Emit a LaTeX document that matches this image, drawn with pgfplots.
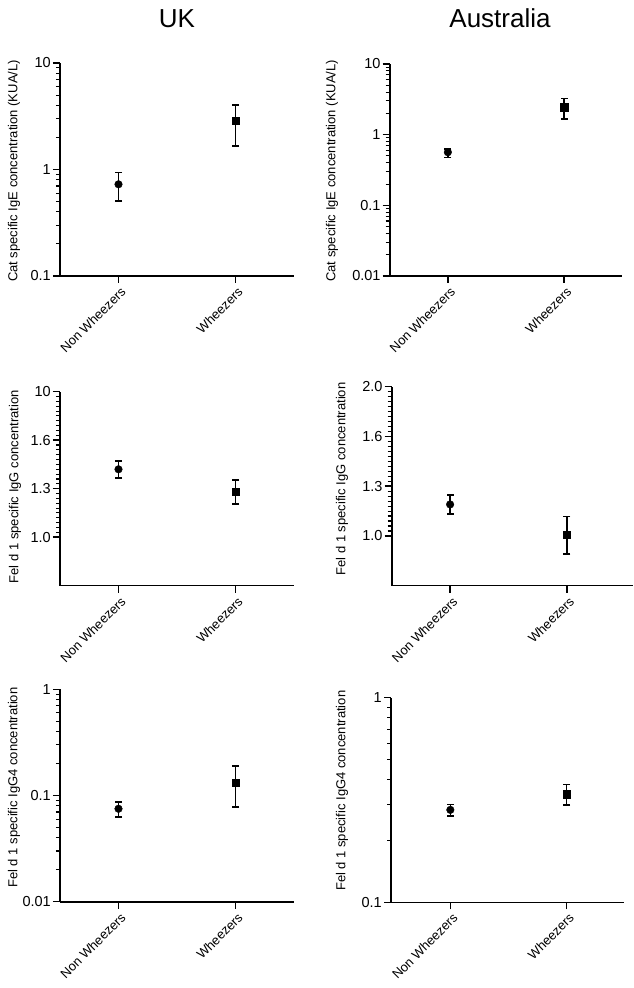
\documentclass[border=0pt]{standalone}
\usepackage{pgfplots}
\pgfplotsset{compat=1.18}
\usepackage{fontspec}
\setmainfont{Liberation Sans}
\pgfplotsset{
 panel/.style={
  scale only axis, anchor=south west,
  axis x line=bottom, axis y line=left,
  axis line style={line width=1.6pt,-},
  tick align=outside, major tick length=7pt, minor tick length=4pt,
  tick style={black, line width=1.4pt},
  minor tick style={line width=1.1pt},
  xtick={0,1}, xticklabels={Non Wheezers,Wheezers},
  xticklabel style={font=\fontsize{13}{15}\selectfont, rotate=45, anchor=north east, inner sep=1pt, yshift=-2pt},
  yticklabel style={font=\fontsize{14.5}{16}\selectfont, inner sep=2pt},
  ylabel style={font=\fontsize{13}{15}\selectfont, anchor=center},
  /pgf/number format/assume math mode=true,
  clip=false,
 },
 eb/.style={black, line width=1.6pt, mark=-, mark size=3.5pt},
 cm/.style={black, only marks, mark=*, mark size=3.8pt},
 sm/.style={black, only marks, mark=square*, mark size=3.8pt},
}
\begin{document}
\begin{tikzpicture}
\useasboundingbox (0,0) rectangle (634pt,988pt);
\node[font=\fontsize{26}{30}\selectfont] at (177pt,969.7pt) {UK};
\node[font=\fontsize{26}{30}\selectfont] at (500pt,969.7pt) {Australia};

% Panel 1: UK IgE
\begin{axis}[panel, at={(60pt,712pt)}, width=234pt, height=213pt,
  xmin=-0.5, xmax=1.5, ymode=log, ymin=0.1, ymax=10,
  ytick={0.1,1,10}, yticklabels={0.1,1,10},
  minor ytick={0.2,0.3,0.4,0.5,0.6,0.7,0.8,0.9,2,3,4,5,6,7,8,9},
  ylabel={Cat specific IgE concentration (KUA/L)},
  ylabel style={at={(axis description cs:-0.1966,0.493)}}]
\addplot[eb] coordinates {(0,0.506) (0,0.94)};
\addplot[eb] coordinates {(1,1.67) (1,4.03)};
\addplot[cm] coordinates {(0,0.726)};
\addplot[sm] coordinates {(1,2.87)};
\end{axis}

% Panel 2: Australia IgE
\begin{axis}[panel, at={(389.7pt,712pt)}, width=232.6pt, height=212pt,
  xmin=-0.5, xmax=1.5, ymode=log, ymin=0.01, ymax=10,
  ytick={0.01,0.1,1,10}, yticklabels={0.01,0.1,1,10},
  minor ytick={0.02,0.03,0.04,0.05,0.06,0.07,0.08,0.09,0.2,0.3,0.4,0.5,0.6,0.7,0.8,0.9,2,3,4,5,6,7,8,9},
  ylabel={Cat specific IgE concentration (KUA/L)},
  ylabel style={at={(axis description cs:-0.248,0.496)}}]
\addplot[eb] coordinates {(0,0.473) (0,0.628)};
\addplot[eb] coordinates {(1,1.67) (1,3.23)};
\addplot[cm] coordinates {(0,0.564)};
\addplot[sm] coordinates {(1,2.44)};
\end{axis}

% Panel 3: UK IgG
\begin{axis}[panel, at={(60pt,402.3pt)}, width=234pt, height=194pt,
  xmin=-0.5, xmax=1.5, ymin=0.7, ymax=1.9,
  ytick={1.0,1.3,1.6,1.9}, yticklabels={1.0,1.3,1.6,10},
  minor ytick={1.03,1.06,1.09,1.12,1.15,1.18,1.21,1.24,1.27,1.33,1.36,1.39,1.42,1.45,1.48,1.51,1.54,1.57,1.63,1.66,1.69,1.72,1.75,1.78,1.81,1.84,1.87},
  ylabel={Fel d 1 specific IgG concentration},
  ylabel style={at={(axis description cs:-0.192,0.51)}}]
\addplot[eb] coordinates {(0,1.366) (0,1.471)};
\addplot[eb] coordinates {(1,1.204) (1,1.354)};
\addplot[cm] coordinates {(0,1.42)};
\addplot[sm] coordinates {(1,1.281)};
\end{axis}

% Panel 4: Australia IgG
\begin{axis}[panel, at={(391.7pt,402.3pt)}, width=241.3pt, height=199pt,
  xmin=-0.5, xmax=1.566, ymin=0.7, ymax=1.9,
  ytick={1.0,1.3,1.6,1.9}, yticklabels={1.0,1.3,1.6,2.0},
  minor ytick={1.03,1.06,1.09,1.12,1.15,1.18,1.21,1.24,1.27,1.33,1.36,1.39,1.42,1.45,1.48,1.51,1.54,1.57,1.63,1.66,1.69,1.72,1.75,1.78,1.81,1.84,1.87},
  ylabel={Fel d 1 specific IgG concentration},
  ylabel style={at={(axis description cs:-0.206,0.536)}}]
\addplot[eb] coordinates {(0,1.134) (0,1.246)};
\addplot[eb] coordinates {(1,0.89) (1,1.118)};
\addplot[cm] coordinates {(0,1.19)};
\addplot[sm] coordinates {(1,1.008)};
\end{axis}

% Panel 5: UK IgG4
\begin{axis}[panel, at={(60pt,86.3pt)}, width=234pt, height=212.4pt,
  xmin=-0.5, xmax=1.5, ymode=log, ymin=0.01, ymax=1,
  ytick={0.01,0.1,1}, yticklabels={0.01,0.1,1},
  minor ytick={0.02,0.03,0.04,0.05,0.06,0.07,0.08,0.09,0.2,0.3,0.4,0.5,0.6,0.7,0.8,0.9},
  ylabel={Fel d 1 specific IgG4 concentration},
  ylabel style={at={(axis description cs:-0.1966,0.537)}}]
\addplot[eb] coordinates {(0,0.063) (0,0.0868)};
\addplot[eb] coordinates {(1,0.078) (1,0.189)};
\addplot[cm] coordinates {(0,0.075)};
\addplot[sm] coordinates {(1,0.1325)};
\end{axis}

% Panel 6: Australia IgG4
\begin{axis}[panel, at={(391pt,85.7pt)}, width=232.7pt, height=204.6pt,
  xmin=-0.51, xmax=1.49, ymode=log, ymin=0.1, ymax=1,
  ytick={0.1,1}, yticklabels={0.1,1},
  minor ytick={0.2,0.3,0.4,0.5,0.6,0.7,0.8,0.9},
  ylabel={Fel d 1 specific IgG4 concentration},
  ylabel style={at={(axis description cs:-0.2106,0.545)}}]
\addplot[eb] coordinates {(0,0.265) (0,0.30)};
\addplot[eb] coordinates {(1,0.299) (1,0.377)};
\addplot[cm] coordinates {(0,0.283)};
\addplot[sm] coordinates {(1,0.337)};
\end{axis}
\end{tikzpicture}
\end{document}
